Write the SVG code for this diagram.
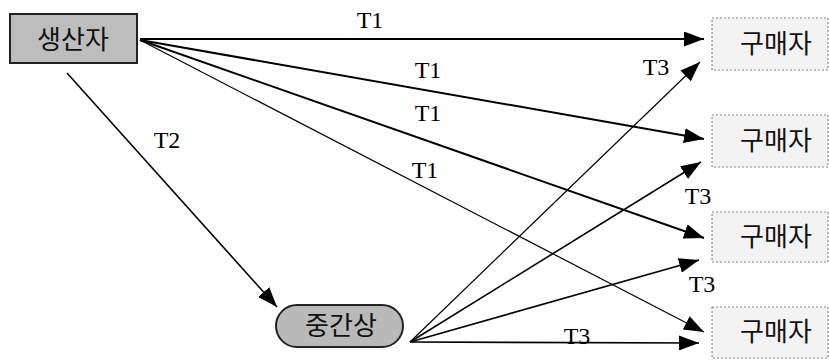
<svg xmlns="http://www.w3.org/2000/svg" width="829" height="361" viewBox="0 0 829 361">
<style>
.lbl{font-family:"Liberation Serif","Times New Roman",serif;font-size:24px;fill:#000;text-anchor:middle}
.kr{font-family:"Noto Sans CJK KR","Noto Sans",sans-serif;font-size:26px;fill:#111;text-anchor:middle}
.buyer rect{fill:#f3f3f3;stroke:#888;stroke-width:1.2;stroke-dasharray:2 2}
.c{fill:none;stroke:#000;marker-end:url(#ah)}
</style>
<defs>
<marker id="ah" viewBox="0 0 20 15" refX="20" refY="7.5" markerWidth="20" markerHeight="15" markerUnits="userSpaceOnUse" orient="auto">
<path d="M0,0 L20,7.5 L0,15 Z" fill="#000"/>
</marker>
</defs>
<g id="producer">
<rect x="10" y="14" width="127" height="49" fill="#bdbdbd" stroke="#222" stroke-width="2"/>
<text class="kr" x="73" y="49">생산자</text>
</g>
<g id="intermediary">
<rect x="276" y="305" width="127" height="42" rx="21" ry="21" fill="#b9b9b9" stroke="#222" stroke-width="2"/>
<text class="kr" x="341" y="335">중간상</text>
</g>
<g id="buyer1" class="buyer">
<rect x="712" y="18" width="116" height="52"/>
<text class="kr" x="776" y="53">구매자</text>
</g>
<g id="buyer2" class="buyer">
<rect x="712" y="115" width="116" height="52"/>
<text class="kr" x="776" y="150">구매자</text>
</g>
<g id="buyer3" class="buyer">
<rect x="712" y="212" width="116" height="50"/>
<text class="kr" x="776" y="246">구매자</text>
</g>
<g id="buyer4" class="buyer">
<rect x="712" y="307" width="116" height="51"/>
<text class="kr" x="776" y="341">구매자</text>
</g>
<g id="connectors">
<path class="c" stroke-width="2" d="M140,39 L704,39"/>
<path class="c" stroke-width="2" d="M140,40 L704,139"/>
<path class="c" stroke-width="2" d="M140,40 L704,238"/>
<path class="c" stroke-width="1.2" d="M140,40 L704,332"/>
<path class="c" stroke-width="1.6" d="M67,73 L277,307"/>
<path class="c" stroke-width="1.2" d="M410,342 L700,62"/>
<path class="c" stroke-width="1.6" d="M410,342 L701,162"/>
<path class="c" stroke-width="1.6" d="M410,342 L699,260"/>
<path class="c" stroke-width="1.6" d="M410,342 L699,343"/>
</g>
<g id="labels">
<text class="lbl" x="370" y="28">T1</text>
<text class="lbl" x="428" y="78">T1</text>
<text class="lbl" x="428" y="121">T1</text>
<text class="lbl" x="425" y="178">T1</text>
<text class="lbl" x="167" y="148">T2</text>
<text class="lbl" x="656" y="75">T3</text>
<text class="lbl" x="698" y="204">T3</text>
<text class="lbl" x="702" y="292">T3</text>
<text class="lbl" x="577" y="344">T3</text>
</g>
</svg>
